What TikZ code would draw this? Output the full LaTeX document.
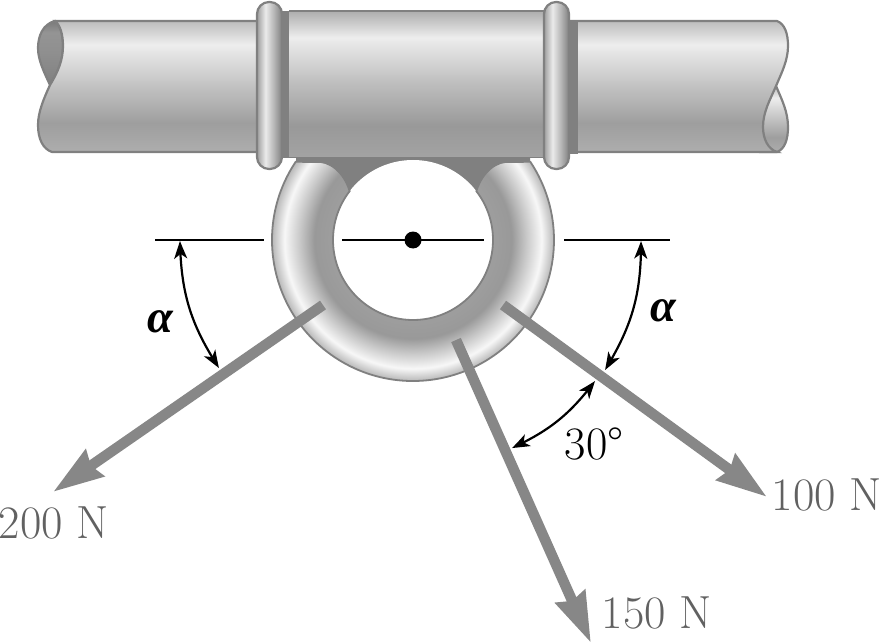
\documentclass[tikz,border=0pt]{standalone}
\usepackage{fontspec}
\newfontfamily\alphafont{Liberation Serif}
\usetikzlibrary{arrows.meta,calc,positioning,bending}
\pgfdeclareverticalshading{pipeshade}{100bp}{color(0bp)=(black!30); color(25bp)=(black!32); color(36bp)=(black!38); color(50bp)=(black!24); color(66bp)=(black!7); color(75bp)=(black!26); color(100bp)=(black!26)}
\pgfdeclareverticalshading{sleeveshade}{100bp}{color(0bp)=(black!36); color(25bp)=(black!36); color(36bp)=(black!40); color(50bp)=(black!26); color(66bp)=(black!7); color(75bp)=(black!32); color(100bp)=(black!32)}
\pgfdeclareverticalshading{lobeshade}{100bp}{color(0bp)=(black!50); color(25bp)=(black!50); color(50bp)=(black!44); color(66bp)=(black!42); color(75bp)=(black!52); color(100bp)=(black!52)}
\pgfdeclarehorizontalshading{flangeshade}{100bp}{color(0bp)=(black!38); color(25bp)=(black!38); color(42bp)=(black!8); color(60bp)=(black!30); color(75bp)=(black!50); color(100bp)=(black!50)}
\pgfdeclareradialshading{ringshade}{\pgfpoint{0bp}{0bp}}{color(0bp)=(black!38); color(14bp)=(black!38); color(17.5bp)=(black!40); color(20bp)=(black!22); color(22.8bp)=(black!3); color(25bp)=(black!28); color(50bp)=(black!28)}
\newcommand{\figfont}{\fontsize{46.5}{51}\selectfont}
\tikzset{
  pipeedge/.style={draw=black!50, line width=2.2pt},
  axisline/.style={draw=black, line width=2.6pt},
  forcearrow/.style={draw=black!47, line width=10.5pt, -{Stealth[length=50pt,width=31pt,inset=4pt]}},
  anglearrow/.style={draw=black, line width=2.2pt, {Stealth[length=18pt,width=13pt,inset=5pt,bend]}-{Stealth[length=18pt,width=13pt,inset=5pt,bend]}},
  forcelabel/.style={text=black!62, font=\figfont, inner sep=0pt},
  anglelabel/.style={text=black, font=\figfont, inner sep=0pt}
}

\begin{document}
\begin{tikzpicture}[x=1pt, y=1pt]
    \useasboundingbox (0,-644) rectangle (882,0);
    \coordinate (C) at (413,-240);

    % lug under the sleeve, then the hole
    \fill[black!50] (296,-150) -- (530,-150) -- (530,-165) -- (480,-195) -- (346,-195) -- (296,-165) -- cycle;
    \fill[white] (C) circle (80pt);

    % ring
    \def\ringpath{($(C)+(146.3:141pt)$) arc[start angle=146.3, end angle=393.7, radius=141pt]
        -- (511,-162) .. controls (497,-160) and (482,-172) .. ($(C)+(37.6:80pt)$)
        arc[start angle=397.6, end angle=142.4, radius=80pt]
        .. controls (344,-172) and (329,-160) .. (315,-162) -- cycle}
    \begin{scope}
        \clip \ringpath;
        \shade[shading=ringshade] (C) circle (141pt);
    \end{scope}
    \draw[black!50, line width=1.8pt] \ringpath;

    % free ends of the pipe
    \shade[shading=lobeshade, pipeedge] (55,-21) .. controls (43,-24) and (38,-36) .. (38,-48) .. controls (38,-60) and (44,-72) .. (50,-85)
        .. controls (58,-72) and (63,-60) .. (63,-46) .. controls (63,-34) and (60,-25) .. (55,-21) -- cycle;
    \shade[shading=pipeshade, pipeedge] (776,-86) .. controls (782,-100) and (788,-112) .. (788,-127)
        .. controls (788,-139) and (785,-149) .. (777,-152) -- (760,-152) -- (760,-86) -- cycle;

    % pipe
    \shade[shading=pipeshade, pipeedge] (55,-21) -- (777,-21)
        .. controls (785,-24) and (788,-34) .. (788,-46) .. controls (788,-60) and (782,-72) .. (776,-86)
        .. controls (770,-100) and (763,-112) .. (763,-127) .. controls (763,-139) and (768,-149) .. (777,-152)
        -- (52,-152) .. controls (43,-149) and (38,-139) .. (38,-125) .. controls (38,-112) and (44,-98) .. (50,-85)
        .. controls (58,-72) and (63,-60) .. (63,-46) .. controls (63,-34) and (60,-25) .. (55,-21) -- cycle;

    % sleeve and flanges
    \fill[black!50] (281,-11) rectangle (290,-158);
    \fill[black!50] (568,-20) rectangle (578,-154);
    \shade[shading=sleeveshade] (289,-11) rectangle (544,-158);
    \draw[black!50, line width=2.2pt] (289,-11) -- (544,-11);
    \draw[black!50, line width=1pt] (289,-158) -- (544,-158);
    \shade[shading=flangeshade, pipeedge, rounded corners=12pt] (257,-2) rectangle (282,-169);
    \shade[shading=flangeshade, pipeedge, rounded corners=12pt] (544,-2) rectangle (569,-169);

    % axis lines
    \draw[axisline] (155,-240) -- (264,-240);
    \draw[axisline] (342,-240) -- (484,-240);
    \draw[axisline] (564,-240) -- (670,-240);
    \fill[black] (C) circle (8.5pt);

    % forces
    \coordinate (F1s) at (323,-305);
    \coordinate (F1) at (53,-492);
    \coordinate (F2s) at (456,-340);
    \coordinate (F2) at (591,-643);
    \coordinate (F3s) at (503,-305);
    \coordinate (F3) at (767,-497);
    \draw[forcearrow] (F1s) -- (F1);
    \draw[forcearrow] (F2s) -- (F2);
    \draw[forcearrow] (F3s) -- (F3);

    % angles
    \coordinate (A1) at (180,-241);
    \coordinate (A2) at (219,-368);
    \coordinate (A3) at (641,-241);
    \coordinate (A4) at (605,-370);
    \coordinate (A5) at (595,-381);
    \coordinate (A6) at (512,-448);
    \draw[anglearrow] (A1) to[bend right=16] (A2);
    \draw[anglearrow] (A3) to[bend left=16] (A4);
    \draw[anglearrow] (A5) to[bend left=14] (A6);

    \node[forcelabel] (L200) at (54,-523) {200 N};
    \node[forcelabel] (L100) at (827,-495) {100 N};
    \node[forcelabel] (L150) at (657,-613) {150 N};
    \node[anglelabel] (L30) at (594,-444) {30°};
    \node[anglelabel] (La) at (160,-322) {\alphafont\bfseries\itshape α};
    \node[anglelabel] (Lb) at (663,-311) {\alphafont\bfseries\itshape α};
\end{tikzpicture}
\end{document}
